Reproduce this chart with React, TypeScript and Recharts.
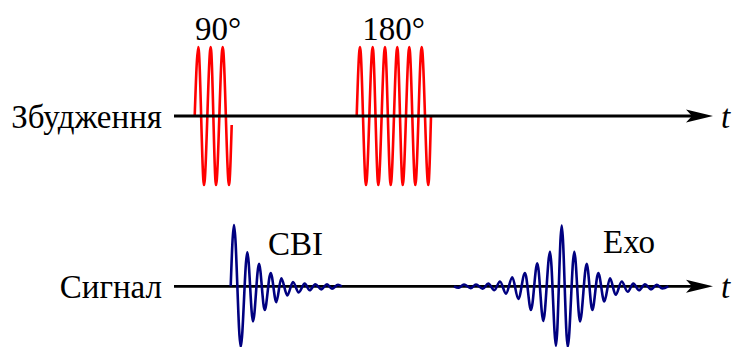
import React from 'react';
import { LineChart, Line, XAxis, YAxis, ReferenceLine, ReferenceDot, Label } from 'recharts';

const FONT = 'Liberation Serif';

// Time axis (arbitrary units) and amplitudes (normalised)
const pulse90Time = [20.7, 24.3, 30, 36.7, 42, 48.7, 55, 57.7];
const pulse90Amp = [0, 1, -1, 1, -1, 1, -1, -0.13];

const pulse180Time = [182.7, 186, 192, 198.7, 204.3, 211, 216.7, 223.3, 228.7, 235.3, 241.3, 247.7, 254.3, 257];
const pulse180Amp = [0, 1, -1, 1, -1, 1, -1, 1, -1, 1, -1, 1, -1, 0];

const fidTime = [56.7, 60, 66.7, 73.3, 79, 85, 90.7, 96.7, 102.3, 107.3, 113.3, 119, 124.7, 130.7, 135.7, 141.3, 147.3, 153, 158, 164, 167.7];
const fidAmp = [0, 1.01, -1.0, 0.56, -0.58, 0.37, -0.39, 0.22, -0.26, 0.13, -0.15, 0.07, -0.1, 0.045, -0.065, 0.035, -0.05, 0.035, -0.04, 0.025, 0];

const echoTime = [280, 284.3, 290, 296.7, 302, 308.7, 314.3, 320.3, 326, 332, 338.3, 344.3, 351, 357, 363.3, 369.3, 376, 382, 387.7, 393.7, 400.3, 406, 412.7, 418.3, 424.3, 430.3, 436, 441.7, 447.7, 453.7, 459.3, 465, 471, 477, 482.7, 488.3, 494.3];
const echoAmp = [0, -0.025, 0.03, -0.03, 0.03, -0.04, 0.045, -0.065, 0.08, -0.12, 0.15, -0.21, 0.22, -0.39, 0.38, -0.57, 0.57, -0.98, 1.0, -1.0, 0.57, -0.58, 0.37, -0.39, 0.22, -0.25, 0.13, -0.14, 0.08, -0.09, 0.045, -0.065, 0.035, -0.05, 0.025, -0.035, 0];

const rowLabels = ['Збудження', 'Сигнал'];
const pulseLabels = ['90°', '180°'];
const signalLabels = ['СВІ', 'Ехо'];
const axisName = 't';

const zip = (t: number[], a: number[]) => t.map((v, i) => ({ t: v, a: a[i] }));

const pulse90 = zip(pulse90Time, pulse90Amp);
const pulse180 = zip(pulse180Time, pulse180Amp);
const fid = zip(fidTime, fidAmp);
const echo = zip(echoTime, echoAmp);

const ArrowAxis = (props: any) => {
  const { x1, y1, x2, y2 } = props;
  return (
    <g>
      <line x1={x1} y1={y1} x2={x2 - 18} y2={y2} stroke="#000" strokeWidth={2.8} />
      <path
        d={`M${x2},${y2} L${x2 - 27},${y2 - 6.5} L${x2 - 21},${y2} L${x2 - 27},${y2 + 6.5} Z`}
        fill="#000"
      />
    </g>
  );
};

const FS = 33;
const BASE = 11.5; // baseline shift from the anchor point

const renderText = (value: string, mode: 'left' | 'right' | 'center', italic = false) => (p: any) => {
  const vb = p.viewBox || {};
  const vx = vb.x ?? 0;
  const vy = vb.y ?? 0;
  const vw = vb.width ?? 0;
  const vh = vb.height ?? 0;
  let x = vx + vw / 2;
  let anchor: 'start' | 'middle' | 'end' = 'middle';
  if (mode === 'left') { x = vx - 12; anchor = 'end'; }
  if (mode === 'right') { x = vx + vw + 8; anchor = 'start'; }
  const y = vy + vh / 2 + BASE;
  return (
    <text
      x={x}
      y={y}
      textAnchor={anchor}
      style={{ fontFamily: FONT, fontSize: FS, fontStyle: italic ? 'italic' : 'normal', fill: '#000' }}
    >
      {value}
    </text>
  );
};

const W = 733;
const MARGIN_X = { left: 174, right: 20 };

export default function App() {
  return (
    <div style={{ position: 'absolute', left: 0, top: 0, width: 733, height: 347, background: '#fff' }}>
      <div style={{ position: 'absolute', left: 0, top: 0 }}>
        <LineChart width={W} height={200} margin={{ top: 47, bottom: 15, ...MARGIN_X }}>
          <XAxis type="number" dataKey="t" domain={[0, 539]} hide allowDataOverflow />
          <YAxis type="number" domain={[-1, 1]} hide />
          <Line data={pulse90} dataKey="a" type="monotone" stroke="#ff0000" strokeWidth={2.6} dot={false} isAnimationActive={false} />
          <Line data={pulse180} dataKey="a" type="monotone" stroke="#ff0000" strokeWidth={2.6} dot={false} isAnimationActive={false} />
          <ReferenceLine y={0} shape={ArrowAxis} ifOverflow="visible">
            <Label content={renderText(rowLabels[0], 'left')} />
            <Label content={renderText(axisName, 'right', true)} />
          </ReferenceLine>
          <ReferenceDot x={44} y={1.27} r={0} ifOverflow="visible" fill="none" stroke="none">
            <Label content={renderText(pulseLabels[0], 'center')} />
          </ReferenceDot>
          <ReferenceDot x={219.5} y={1.27} r={0} ifOverflow="visible" fill="none" stroke="none">
            <Label content={renderText(pulseLabels[1], 'center')} />
          </ReferenceDot>
        </LineChart>
      </div>
      <div style={{ position: 'absolute', left: 0, top: 200 }}>
        <LineChart width={W} height={147} margin={{ top: 25, bottom: 0, ...MARGIN_X }}>
          <XAxis type="number" dataKey="t" domain={[0, 539]} hide allowDataOverflow />
          <YAxis type="number" domain={[-1, 1]} hide />
          <ReferenceLine y={0} shape={ArrowAxis} ifOverflow="visible">
            <Label content={renderText(rowLabels[1], 'left')} />
            <Label content={renderText(axisName, 'right', true)} />
          </ReferenceLine>
          <Line data={fid} dataKey="a" type="monotone" stroke="#000080" strokeWidth={2.6} dot={false} isAnimationActive={false} />
          <Line data={echo} dataKey="a" type="monotone" stroke="#000080" strokeWidth={2.6} dot={false} isAnimationActive={false} />
          <ReferenceDot x={121.5} y={0.71} r={0} ifOverflow="visible" fill="none" stroke="none">
            <Label content={renderText(signalLabels[0], 'center')} />
          </ReferenceDot>
          <ReferenceDot x={455} y={0.73} r={0} ifOverflow="visible" fill="none" stroke="none">
            <Label content={renderText(signalLabels[1], 'center')} />
          </ReferenceDot>
        </LineChart>
      </div>
    </div>
  );
}
